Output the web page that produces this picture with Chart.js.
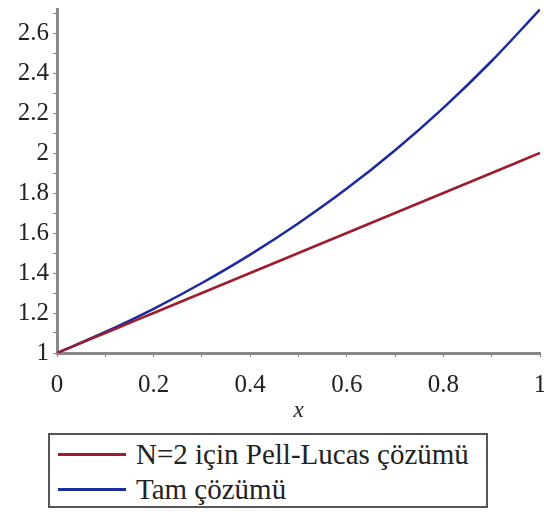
<!DOCTYPE html>
<html><head><meta charset="utf-8">
<script src="https://cdn.jsdelivr.net/npm/chart.js@4"></script>
<style>
html,body{margin:0;padding:0;background:#fff;}
#wrap{position:relative;width:544px;height:425px;}
#legend{position:absolute;left:48px;top:433px;width:440px;height:75px;border:2px solid #555;box-sizing:border-box;font-family:'Liberation Serif', serif;font-size:29px;color:#222;}
.row{position:absolute;left:8px;height:32px;display:flex;align-items:center;white-space:nowrap;}
.sw{width:68px;height:3px;margin-right:10px;}
</style></head>
<body>
<div id="wrap"><canvas id="c" width="544" height="425"></canvas></div>
<div id="legend">
 <div class="row" style="top:3px"><span class="sw" style="background:#a01c2c"></span><span>N=2 için Pell-Lucas çözümü</span></div>
 <div class="row" style="top:38px"><span class="sw" style="background:#1c2aa0"></span><span>Tam çözümü</span></div>
</div>
<script>
const xValues = [0, 0.1, 0.2, 0.3, 0.4, 0.5, 0.6, 0.7, 0.8, 0.9, 1.0];
const pellLucas = [1.0, 1.1, 1.2, 1.3, 1.4, 1.5, 1.6, 1.7, 1.8, 1.9, 2.0];
const exact = [1.0, 1.105, 1.221, 1.350, 1.492, 1.649, 1.822, 2.014, 2.226, 2.460, 2.718];
const seriesNames = ["N=2 için Pell-Lucas çözümü", "Tam çözümü"];

const toPts = ys => xValues.map((x, i) => ({x: x, y: ys[i]}));
const font = {family: 'Liberation Serif', size: 25};

new Chart(document.getElementById('c'), {
  type: 'line',
  data: {datasets: [
    {label: seriesNames[0], data: toPts(pellLucas), borderColor: '#a01c2c', borderWidth: 2.5, pointRadius: 0, cubicInterpolationMode: 'monotone'},
    {label: seriesNames[1], data: toPts(exact), borderColor: '#1c2aa0', borderWidth: 2.5, pointRadius: 0, cubicInterpolationMode: 'monotone'}
  ]},
  options: {
    responsive: false, animation: false,
    layout: {padding: {top: 9, right: 4, left: 0, bottom: 0}},
    plugins: {legend: {display: false}, tooltip: {enabled: false}},
    scales: {
      x: {
        type: 'linear', min: 0, max: 1,
        afterBuildTicks: s => { s.ticks = []; for (let i = 0; i <= 10; i++) s.ticks.push({value: i / 10}); },
        ticks: {font: font, color: '#222', padding: 13, maxRotation: 0, autoSkip: false,
          callback: v => { const k = Math.round(v * 10); return k % 2 ? '' : String(+(k / 10).toFixed(1)); }},
        grid: {drawOnChartArea: false, drawTicks: true, tickLength: 4, color: '#888', tickWidth: 1},
        border: {color: '#888', width: 3},
        title: {display: true, text: 'x', font: {family: 'Liberation Serif', size: 23, style: 'italic'}, color: '#222', padding: {top: 0, bottom: 0}},
        afterFit: s => { s.height = 72; s.paddingRight = 0; }
      },
      y: {
        min: 1, max: 2.72,
        afterBuildTicks: s => { s.ticks = []; for (let i = 10; i <= 27; i++) s.ticks.push({value: i / 10}); },
        ticks: {font: font, color: '#222', padding: 4, autoSkip: false,
          callback: v => { const k = Math.round(v * 10); return k % 2 ? '' : String(+(k / 10).toFixed(1)); }},
        grid: {drawOnChartArea: false, drawTicks: true, tickLength: 4, color: '#888', tickWidth: 1},
        border: {color: '#888', width: 3},
        afterFit: s => { s.width = 57; s.paddingTop = 0; }
      }
    }
  }
});
</script>
</body></html>
